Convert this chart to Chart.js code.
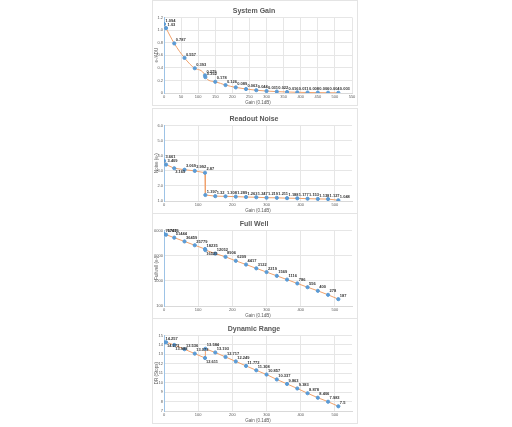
<!DOCTYPE html>
<html lang="en">
<head>
  <meta charset="UTF-8">
  <title>Sensor Characteristics</title>
  <style>
    body {
      margin: 0;
      background-color: #ffffff;
      font-family: 'Liberation Sans', Arial, sans-serif;
    }

    .panel {
      position: absolute;
      left: 152px;
      width: 206px;
      height: 106px;
      border: 1px solid #e4e4e4;
      box-sizing: border-box;
    }

    .panel canvas {
      position: absolute;
      left: 0;
      top: 0;
    }
  </style>
</head>
<body>
  <div class="panel" style="top:0px"><canvas id="gainChart" width="204" height="104"></canvas></div>
  <div class="panel" style="top:108px"><canvas id="noiseChart" width="204" height="104"></canvas></div>
  <div class="panel" style="top:213px"><canvas id="wellChart" width="204" height="104"></canvas></div>
  <div class="panel" style="top:318px"><canvas id="rangeChart" width="204" height="104"></canvas></div>

  <script src="https://cdn.jsdelivr.net/npm/chart.js@4/dist/chart.umd.min.js"></script>
  <script>
    // gain settings (0.1 dB)
    const gainSteps = [0, 6, 30, 60, 90, 120, 121, 150, 180, 210, 240, 270, 300, 330, 360, 390, 420, 450, 480, 510];

    const systemGain = [1.094, 1.03, 0.787, 0.557, 0.393, 0.279, 0.252, 0.178, 0.126, 0.089, 0.063, 0.044, 0.031, 0.022, 0.016, 0.011, 0.008, 0.006, 0.004, 0.003];
    const readNoise = [3.661, 3.409, 3.165, 3.069, 2.992, 2.87, 1.397, 1.32, 1.308, 1.289, 1.263, 1.247, 1.219, 1.211, 1.188, 1.177, 1.153, 1.138, 1.127, 1.048];
    const fullWell = [71702, 67476, 51444, 36459, 25779, 18235, 16525, 12052, 8906, 6209, 4417, 3122, 2219, 1569, 1116, 786, 556, 400, 278, 187];
    const dynamicRange = [14.257, 14.273, 13.988, 13.536, 13.073, 12.611, 13.584, 13.193, 12.717, 12.249, 11.772, 11.308, 10.857, 10.337, 9.863, 9.383, 8.878, 8.406, 7.983, 7.5];

    const gainTicks = [0, 50, 100, 150, 200, 250, 300, 350, 400, 450, 500, 550];
    const gainTicksWide = [0, 100, 200, 300, 400, 500];

    const textColor = '#595959';
    const gridColor = '#e6e6e6';

    // draws the value next to each marker, like the spreadsheet data labels
    const valueLabels = {
      id: 'valueLabels',
      afterDatasetsDraw(chart) {
        const ctx = chart.ctx;
        const meta = chart.getDatasetMeta(0);
        const values = chart.data.datasets[0].data;
        const below = chart.options.plugins.valueLabels.below || [];
        ctx.save();
        ctx.font = 'bold 4px "Liberation Sans", Arial, sans-serif';
        ctx.fillStyle = '#333333';
        meta.data.forEach((pt, i) => {
          if (below.includes(i)) {
            ctx.textBaseline = 'top';
            ctx.fillText(String(values[i].y), pt.x + 1, pt.y + 2);
          } else {
            ctx.textBaseline = 'bottom';
            ctx.fillText(String(values[i].y), pt.x + 1.5, pt.y - 1.5);
          }
        });
        ctx.restore();
      }
    };

    function pointsOf(values) {
      return gainSteps.map((g, i) => ({ x: g, y: values[i] }));
    }

    function makeChart(id, title, yTitle, values, yScale, xTicks, smooth, below) {
      const ctx = document.getElementById(id).getContext('2d');
      return new Chart(ctx, {
        type: 'line',
        data: {
          datasets: [{
            data: pointsOf(values),
            borderColor: '#f0a26c',
            borderWidth: 1,
            pointBackgroundColor: '#5b9bd5',
            pointBorderColor: '#5b9bd5',
            pointRadius: 1.6,
            cubicInterpolationMode: smooth ? 'monotone' : 'default',
            tension: 0
          }]
        },
        options: {
          responsive: false,
          animation: false,
          layout: { padding: { top: 2, right: 3, left: 1, bottom: 0 } },
          plugins: {
            legend: { display: false },
            tooltip: { enabled: false },
            valueLabels: { below: below },
            title: {
              display: true,
              text: title,
              color: textColor,
              font: { size: 7, weight: 'bold' },
              padding: { top: 4, bottom: 2 }
            }
          },
          scales: {
            x: {
              type: 'linear',
              min: 0,
              max: 550,
              afterBuildTicks: (scale) => { scale.ticks = xTicks.map(v => ({ value: v })); },
              afterFit: (scale) => { scale.height = 12; },
              ticks: { color: textColor, font: { size: 4 }, padding: 1, maxRotation: 0 },
              grid: { color: gridColor, drawTicks: false },
              border: { color: '#d9d9d9' },
              title: { display: true, text: 'Gain (0.1dB)', color: textColor, font: { size: 4.5 }, padding: 0 }
            },
            y: Object.assign({
              afterFit: (scale) => { scale.width = 10; },
              grid: { color: gridColor, drawTicks: false },
              border: { color: '#9dc3e6' },
              title: { display: true, text: yTitle, color: textColor, font: { size: 4.5 }, padding: 0 }
            }, yScale)
          }
        },
        plugins: [valueLabels]
      });
    }

    makeChart('gainChart', 'System Gain', 'e-/ADU', systemGain,
      { min: 0, max: 1.2, ticks: { stepSize: 0.2, color: textColor, font: { size: 4 }, padding: 1 } }, gainTicks, true, []);

    makeChart('noiseChart', 'Readout Noise', 'Noise (e-)', readNoise,
      { min: 1, max: 6, ticks: { stepSize: 0.5, color: textColor, font: { size: 4 }, padding: 1 } }, gainTicksWide, false, [2]);

    makeChart('wellChart', 'Full Well', 'Fullwell (e-)', fullWell,
      {
        type: 'logarithmic', min: 100, max: 100000,
        afterBuildTicks: (scale) => { scale.ticks = [100, 1000, 10000, 100000].map(v => ({ value: v })); },
        ticks: { color: textColor, font: { size: 4 }, padding: 1, callback: (v) => String(v) }
      }, gainTicksWide, false, [6]);

    makeChart('rangeChart', 'Dynamic Range', 'DR (Stops)', dynamicRange,
      { min: 7, max: 15, ticks: { stepSize: 1, color: textColor, font: { size: 4 }, padding: 1 } }, gainTicksWide, false, [1, 2, 5]);
  </script>
</body>
</html>
